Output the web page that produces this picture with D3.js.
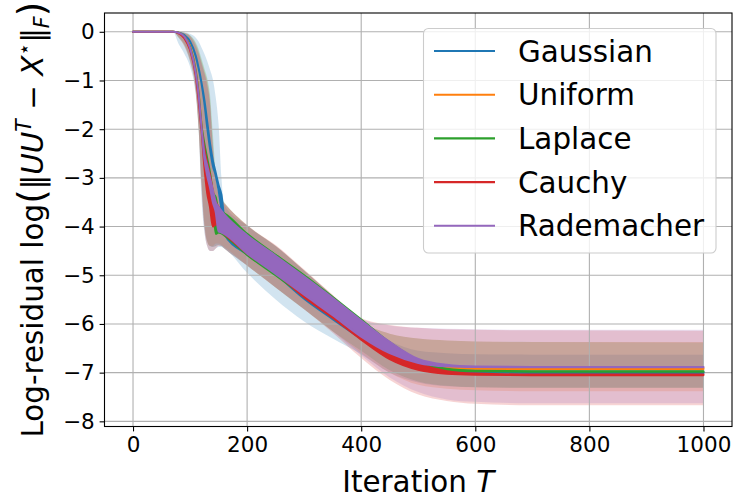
<!DOCTYPE html>
<html>
<head>
<meta charset="utf-8">
<script src="https://cdn.jsdelivr.net/npm/d3@7"></script>
<style>
  html, body { margin: 0; padding: 0; background: #fff; }
  text { font-family: "DejaVu Sans", sans-serif; fill: #000; }
</style>
</head>
<body>
<svg id="chart"></svg>
<script>
const width = 734;
const height = 501;

// iteration knots
const iters = [0, 70, 80, 90, 100, 110, 115, 120, 125, 130, 135, 140, 145, 150, 155, 160, 200, 250, 300, 350, 400, 450, 500, 550, 600, 700, 1000];

// mean curve (upper / lower edge of its oscillation) and shaded std band
const gaussHi = [0, 0, -0.02, -0.07, -0.2, -0.5, -0.75, -1.05, -1.4, -1.85, -2.3, -2.65, -2.9, -3.15, -3.35, -3.8, -4.2, -4.62, -5.05, -5.5, -5.95, -6.4, -6.75, -6.9, -6.96, -6.99, -6.995];
const gaussLo = [0, 0, -0.02, -0.07, -0.2, -0.5, -0.75, -1.05, -1.45, -1.95, -2.4, -2.75, -2.95, -3.25, -3.65, -4.15, -4.57, -4.98, -5.48, -5.9, -6.3, -6.66, -6.9, -6.98, -7.0, -7.005, -7.005];
const gaussBandHi = [0, 0, 0, -0.01, -0.04, -0.12, -0.2, -0.32, -0.45, -0.6, -0.78, -0.98, -1.35, -1.9, -3.0, -3.55, -3.98, -4.4, -4.9, -5.42, -6.0, -6.35, -6.55, -6.6, -6.62, -6.63, -6.63];
const gaussBandLo = [0, 0, -0.25, -0.45, -0.72, -1.3, -2.0, -3.4, -4.1, -4.4, -4.5, -4.5, -4.45, -4.42, -4.42, -4.45, -4.95, -5.5, -5.95, -6.3, -6.62, -7.0, -7.2, -7.28, -7.3, -7.31, -7.31];

const unifHi = [0, 0, -0.02, -0.1, -0.3, -0.8, -1.25, -1.9, -2.45, -2.75, -3.0, -3.25, -3.5, -3.65, -3.72, -3.8, -4.22, -4.64, -5.06, -5.5, -5.96, -6.4, -6.75, -6.88, -6.91, -6.915, -6.915];
const unifLo = [0, 0, -0.02, -0.1, -0.3, -0.8, -1.25, -1.9, -2.55, -2.9, -3.15, -3.45, -3.65, -4.0, -4.05, -4.1, -4.5, -4.9, -5.35, -5.78, -6.2, -6.56, -6.8, -6.9, -6.92, -6.925, -6.925];
const unifBandHi = [0, 0, 0, -0.02, -0.08, -0.25, -0.4, -0.6, -0.8, -1.0, -1.4, -2.3, -3.0, -3.35, -3.45, -3.52, -3.98, -4.4, -4.9, -5.42, -5.95, -6.2, -6.3, -6.34, -6.36, -6.37, -6.37];
const unifBandLo = [0, 0, -0.1, -0.25, -0.55, -1.15, -1.9, -3.0, -3.9, -4.3, -4.4, -4.4, -4.35, -4.35, -4.38, -4.42, -4.8, -5.25, -5.7, -6.15, -6.6, -7.0, -7.25, -7.33, -7.36, -7.38, -7.38];

const laplHi = [0, 0, -0.02, -0.1, -0.32, -0.82, -1.28, -1.92, -2.3, -2.6, -2.9, -3.3, -3.4, -3.68, -3.7, -3.73, -4.15, -4.58, -5.0, -5.45, -5.91, -6.38, -6.75, -6.92, -6.96, -6.97, -6.97];
const laplLo = [0, 0, -0.02, -0.1, -0.32, -0.82, -1.28, -1.92, -2.35, -2.7, -3.05, -3.5, -4.15, -4.12, -4.14, -4.18, -4.58, -5.0, -5.43, -5.85, -6.27, -6.62, -6.85, -6.95, -6.97, -6.98, -6.98];
const laplBandHi = [0, 0, 0, -0.02, -0.07, -0.22, -0.36, -0.55, -0.75, -0.95, -1.3, -2.1, -2.9, -3.3, -3.42, -3.5, -3.97, -4.4, -4.9, -5.42, -5.95, -6.2, -6.3, -6.34, -6.36, -6.37, -6.38];
const laplBandLo = [0, 0, -0.12, -0.28, -0.6, -1.2, -2.0, -3.1, -3.95, -4.3, -4.4, -4.42, -4.4, -4.38, -4.4, -4.45, -4.8, -5.25, -5.7, -6.15, -6.55, -6.95, -7.18, -7.27, -7.3, -7.31, -7.31];

const cauchyHi = [0, 0, -0.03, -0.13, -0.37, -0.9, -1.4, -2.0, -2.4, -2.7, -2.95, -3.3, -3.5, -3.6, -3.7, -3.78, -4.2, -4.62, -5.05, -5.5, -5.97, -6.43, -6.8, -6.97, -7.02, -7.04, -7.04];
const cauchyLo = [0, 0, -0.03, -0.13, -0.37, -0.9, -1.4, -2.0, -2.75, -3.3, -3.6, -4.0, -3.95, -4.0, -4.1, -4.15, -4.55, -4.95, -5.45, -5.87, -6.32, -6.72, -6.94, -7.02, -7.04, -7.05, -7.05];
const cauchyBandHi = [0, 0, 0, -0.03, -0.1, -0.3, -0.45, -0.65, -0.85, -1.1, -1.5, -2.4, -3.0, -3.35, -3.45, -3.52, -3.97, -4.38, -4.88, -5.4, -5.88, -6.02, -6.08, -6.11, -6.12, -6.13, -6.14];
const cauchyBandLo = [0, 0, -0.12, -0.3, -0.62, -1.25, -2.0, -3.2, -4.05, -4.4, -4.5, -4.5, -4.45, -4.4, -4.4, -4.45, -4.8, -5.25, -5.7, -6.18, -6.7, -7.15, -7.45, -7.58, -7.64, -7.67, -7.67];

const radeHi = [0, 0, -0.02, -0.1, -0.33, -0.85, -1.3, -1.95, -2.5, -2.75, -3.0, -3.25, -3.5, -3.6, -3.68, -3.75, -4.18, -4.6, -5.03, -5.47, -5.93, -6.37, -6.72, -6.84, -6.875, -6.885, -6.885];
const radeLo = [0, 0, -0.02, -0.1, -0.33, -0.85, -1.3, -1.95, -2.6, -2.95, -3.2, -3.5, -3.7, -4.1, -4.12, -4.15, -4.55, -4.97, -5.4, -5.82, -6.26, -6.6, -6.8, -6.87, -6.885, -6.89, -6.89];
const radeBandHi = [0, 0, 0, -0.02, -0.08, -0.26, -0.42, -0.62, -0.82, -1.05, -1.45, -2.3, -3.0, -3.35, -3.45, -3.52, -3.98, -4.4, -4.9, -5.42, -5.9, -6.03, -6.08, -6.1, -6.11, -6.12, -6.12];
const radeBandLo = [0, 0, -0.1, -0.26, -0.57, -1.18, -1.95, -3.1, -3.95, -4.3, -4.4, -4.42, -4.4, -4.38, -4.4, -4.45, -4.8, -5.25, -5.7, -6.15, -6.65, -7.1, -7.4, -7.55, -7.6, -7.63, -7.63];

const names = ["Gaussian", "Uniform", "Laplace", "Cauchy", "Rademacher"];
const colors = ["#1f77b4", "#ff7f0e", "#2ca02c", "#d62728", "#9467bd"];
const xTicks = [0, 200, 400, 600, 800, 1000];
const yTicks = [0, -1, -2, -3, -4, -5, -6, -7, -8];

const series = [
    [gaussHi, gaussLo, gaussBandHi, gaussBandLo],
    [unifHi, unifLo, unifBandHi, unifBandLo],
    [laplHi, laplLo, laplBandHi, laplBandLo],
    [cauchyHi, cauchyLo, cauchyBandHi, cauchyBandLo],
    [radeHi, radeLo, radeBandHi, radeBandLo]
].map((s, i) => ({
    name: names[i],
    color: colors[i],
    points: iters.map((t, j) => ({t: t, hi: s[0][j], lo: s[1][j], bHi: s[2][j], bLo: s[3][j]}))
}));

const plot = {left: 104.5, right: 732, top: 13, bottom: 426.5};

const x = d3.scaleLinear().domain([-50, 1050]).range([plot.left, plot.right]);
const y = d3.scaleLinear().domain([-8.106, 0.386]).range([plot.bottom, plot.top]);

const svg = d3.select("#chart")
    .attr("width", width)
    .attr("height", height);

svg.append("rect").attr("width", width).attr("height", height).attr("fill", "#fff");

// std bands
const band = d3.area()
    .x(d => x(d.t))
    .y0(d => y(d.bLo))
    .y1(d => y(d.bHi))
    .curve(d3.curveMonotoneX);

svg.append("g").selectAll("path")
    .data(series)
    .enter().append("path")
    .attr("d", d => band(d.points))
    .attr("fill", d => d.color)
    .attr("fill-opacity", 0.2);

// grid
const grid = svg.append("g").attr("stroke", "#b0b0b0").attr("stroke-width", 1.1);
grid.selectAll(".gx").data(xTicks).enter().append("line")
    .attr("x1", d => x(d)).attr("x2", d => x(d))
    .attr("y1", plot.top).attr("y2", plot.bottom);
grid.selectAll(".gy").data(yTicks).enter().append("line")
    .attr("x1", plot.left).attr("x2", plot.right)
    .attr("y1", d => y(d)).attr("y2", d => y(d));

// mean curves (filled between the edges of their oscillation)
const meanArea = d3.area()
    .x(d => x(d.t))
    .y0(d => y(d.lo))
    .y1(d => y(d.hi))
    .curve(d3.curveMonotoneX);

svg.append("g").selectAll("path")
    .data(series)
    .enter().append("path")
    .attr("d", d => meanArea(d.points))
    .attr("fill", d => d.color)
    .attr("stroke", d => d.color)
    .attr("stroke-width", 2.1)
    .attr("stroke-linejoin", "round");

// axes
const xAxis = d3.axisBottom(x).tickValues(xTicks).tickSize(4.9).tickPadding(4.9)
    .tickFormat(d3.format("d"));
const yAxis = d3.axisLeft(y).tickValues(yTicks).tickSize(4.9).tickPadding(4.9)
    .tickFormat(d => d < 0 ? "\u2212" + Math.abs(d) : d);

const gx = svg.append("g").attr("transform", `translate(0,${plot.bottom})`).call(xAxis);
const gy = svg.append("g").attr("transform", `translate(${plot.left},0)`).call(yAxis);
[gx, gy].forEach(g => {
    g.select(".domain").remove();
    g.selectAll(".tick line").attr("stroke", "#000").attr("stroke-width", 1.1);
    g.selectAll(".tick text").style("font-size", "21.5px").attr("fill", "#000");
});

svg.append("rect")
    .attr("x", plot.left).attr("y", plot.top)
    .attr("width", plot.right - plot.left).attr("height", plot.bottom - plot.top)
    .attr("fill", "none").attr("stroke", "#000").attr("stroke-width", 1.1);

// axis labels
const xl = svg.append("text")
    .attr("x", (plot.left + plot.right) / 2)
    .attr("y", 492)
    .attr("text-anchor", "middle")
    .style("font-size", "29.4px");
xl.append("tspan").text("Iteration ");
xl.append("tspan").attr("font-style", "italic").text("T");

const yl = svg.append("text")
    .attr("transform", `translate(43,${(plot.top + plot.bottom) / 2}) rotate(-90)`)
    .attr("text-anchor", "middle")
    .style("font-size", "29.4px");
yl.append("tspan").text("Log-residual log");
yl.append("tspan").style("font-size", "37px").attr("dy", 2).text("(");
yl.append("tspan").attr("dy", -2).text("\u2016");
yl.append("tspan").attr("font-style", "italic").text("UU");
yl.append("tspan").attr("font-style", "italic").style("font-size", "20.5px").attr("dy", -12).text("T");
yl.append("tspan").attr("dy", 12).text(" \u2212 ");
yl.append("tspan").attr("font-style", "italic").text("X");
yl.append("tspan").style("font-size", "20.5px").attr("dy", -12).text("\u22c6");
yl.append("tspan").attr("dy", 12).text("\u2016");
yl.append("tspan").attr("font-style", "italic").style("font-size", "20.5px").attr("dy", 6).text("F");
yl.append("tspan").style("font-size", "37px").attr("dy", -4).text(")");

// legend
const legend = svg.append("g");
legend.append("rect")
    .attr("x", 423.5).attr("y", 28.5).attr("width", 292.5).attr("height", 224.5)
    .attr("rx", 5).attr("ry", 5)
    .attr("fill", "#fff").attr("fill-opacity", 0.8)
    .attr("stroke", "#cccccc").attr("stroke-width", 1.1);

const rows = legend.selectAll(".row")
    .data(series)
    .enter().append("g")
    .attr("transform", (d, i) => `translate(0,${51 + i * 43.7})`);
rows.append("line")
    .attr("x1", 434).attr("x2", 495)
    .attr("stroke", d => d.color).attr("stroke-width", 2.1);
rows.append("text")
    .attr("x", 518).attr("y", 10.5)
    .style("font-size", "29.4px")
    .text(d => d.name);
</script>
</body>
</html>
